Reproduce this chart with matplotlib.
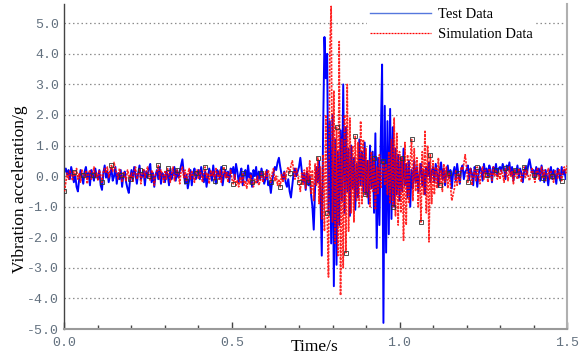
import numpy as np
import matplotlib
matplotlib.use("Agg")
import matplotlib.pyplot as plt
from matplotlib.lines import Line2D

# measured vibration acceleration (g), one row per 0.1 s block
test_accel = [
    0.15, 0.25, 0.05, 0.2, -0.1, 0.3, 0.1, -0.2, 0.05, -0.35, -0.5, -0.1, 0.2, 0.0, -0.25, 0.15, 0.3, -0.05, 0.1, -0.3, 0.2, 0.05, -0.15, 0.25, 0.0,
    -0.1, 0.2, -0.3, -0.45, 0.1, 0.35, -0.05, 0.15, -0.2, 0.05, 0.25, -0.15, 0.0, 0.3, -0.25, 0.1, -0.1, 0.2, -0.35, 0.05, 0.15, -0.2, -0.4, -0.55, -0.1,
    0.2, -0.15, 0.3, 0.05, -0.25, 0.1, 0.35, -0.1, 0.0, 0.2, -0.3, 0.15, -0.05, 0.25, 0.4, -0.2, 0.1, -0.35, 0.05, 0.2, -0.1, 0.3, -0.25, 0.1, 0.0,
    -0.2, 0.15, 0.05, -0.3, 0.25, -0.1, 0.1, 0.3, -0.15, 0.2, -0.05, 0.15, 0.35, 0.55, 0.1, -0.25, 0.05, -0.4, -0.15, 0.2, -0.3, 0.1, 0.25, -0.1, 0.05,
    0.2, -0.1, 0.3, 0.05, -0.2, 0.15, -0.35, -0.05, 0.25, 0.1, -0.15, 0.35, 0.0, -0.25, 0.2, 0.1, -0.1, 0.3, -0.3, 0.05, 0.2, -0.05, 0.15, -0.2, 0.25,
    0.1, 0.3, -0.1, 0.4, 0.15, -0.2, 0.05, 0.25, -0.3, 0.1, 0.2, -0.15, 0.35, -0.05, 0.1, -0.35, 0.2, 0.0, 0.3, -0.2, 0.15, -0.1, 0.25, 0.05, -0.25,
    -0.1, 0.2, -0.3, -0.2, -0.55, -0.15, 0.1, 0.3, 0.2, 0.45, 0.6, 0.3, 0.05, -0.1, 0.15, -0.2, -0.35, -0.1, -0.5, -0.7, -0.3, 0.1, 0.25, 0.0, 0.15,
    0.3, 0.6, 0.2, -0.2, 0.1, -0.45, 0.15, -0.3, 0.0, -0.6, -1.0, -1.75, -0.4, 0.3, -0.2, 0.5, -0.6, -2.6, 1.5, 4.55, 3.2, 4.0, -1.2, 1.8, -2.2,
    2.0, -3.6, 1.2, -2.9, 0.8, -1.6, 1.5, -0.8, 3.0, -1.2, 1.6, -0.5, 0.9, -1.3, 1.0, -0.4, 0.6, -1.1, 0.4, -0.7, 1.2, -0.3, 0.8, -0.5, 1.1,
    -0.6, 0.5, -0.9, 1.0, -0.4, 0.8, -1.2, 1.4, -2.35, 0.6, -1.6, 1.2, 3.65, -4.8, 2.3, -2.5, 1.8, -1.9, 2.2, -1.4, 1.6, -1.0, 0.9, -0.6, 0.7,
    -0.8, 0.6, -0.5, 0.9, -0.3, 0.4, -0.7, 0.5, -1.0, 0.2, -0.4, 0.5, -0.2, 0.3, -0.5, 0.1, 0.4, -0.3, 0.2, -0.6, 0.3, 0.0, 0.45, -0.2, 0.15,
    0.3, -0.2, 0.4, 0.1, -0.35, 0.2, 0.45, -0.1, 0.25, -0.3, 0.15, 0.35, -0.05, 0.2, -0.4, 0.1, 0.3, -0.15, 0.4, 0.05, -0.25, 0.2, 0.35, -0.1, 0.15,
    0.2, 0.35, -0.1, 0.25, 0.1, -0.3, 0.3, 0.15, -0.35, 0.05, 0.3, 0.2, -0.15, 0.4, 0.1, 0.25, -0.05, 0.35, 0.2, -0.2, 0.3, 0.1, 0.4, 0.0, 0.25,
    0.3, 0.15, 0.4, 0.25, -0.1, 0.35, 0.2, 0.45, 0.05, 0.3, -0.15, 0.2, 0.1, 0.35, -0.05, 0.25, 0.1, -0.2, 0.15, 0.3, 0.05, 0.35, 0.55, 0.3, 0.1,
    0.2, -0.1, 0.3, 0.05, 0.25, -0.15, 0.35, 0.1, -0.2, 0.2, 0.0, -0.3, 0.15, 0.3, -0.1, 0.2, 0.05, -0.25, 0.25, 0.1, -0.15, 0.3, 0.05, 0.2, -0.1,
    0.1,
]

# simulated vibration acceleration (g), same blocks
sim_accel = [
    -0.5, -0.2, 0.1, -0.1, 0.2, 0.05, -0.15, 0.15, 0.0, 0.25, -0.1, 0.1, -0.2, 0.2, 0.05, -0.05, 0.15, -0.25, 0.1, 0.2, -0.1, 0.05, 0.3, -0.05, 0.1,
    -0.15, 0.2, 0.05, -0.2, 0.15, 0.25, 0.1, 0.3, -0.05, 0.2, 0.35, 0.15, 0.45, 0.2, 0.1, -0.1, 0.25, 0.05, -0.2, 0.15, 0.0, -0.15, 0.2, 0.05, -0.1,
    0.1, -0.2, 0.15, 0.3, -0.1, 0.05, 0.2, -0.25, 0.1, 0.25, -0.05, 0.15, 0.3, 0.0, -0.15, 0.2, 0.1, -0.3, 0.05, 0.15, 0.35, -0.1, 0.2, 0.05, -0.2,
    0.15, -0.1, 0.25, 0.05, -0.2, 0.1, 0.3, -0.15, 0.0, 0.2, 0.1, -0.25, 0.15, 0.3, -0.05, 0.2, -0.15, 0.05, 0.25, -0.1, 0.15, 0.0, -0.2, 0.1, 0.2,
    -0.1, 0.2, 0.05, -0.2, 0.15, 0.3, -0.05, 0.1, -0.25, 0.2, 0.0, 0.15, -0.15, 0.25, 0.05, -0.1, 0.2, -0.2, 0.1, 0.3, -0.05, 0.15, -0.2, 0.05, 0.2,
    -0.1, -0.25, 0.05, -0.3, -0.15, -0.35, -0.05, -0.25, 0.1, -0.3, -0.15, -0.4, -0.1, -0.25, 0.05, -0.2, -0.35, -0.1, -0.25, 0.0, -0.3, -0.15, 0.1, -0.2, -0.05,
    0.15, -0.1, 0.2, 0.05, -0.2, 0.1, 0.25, -0.15, 0.0, -0.3, -0.1, -0.35, 0.05, -0.2, 0.15, -0.1, 0.2, 0.3, 0.1, 0.35, 0.5, 0.2, -0.1, 0.25, 0.05,
    -0.2, -0.5, 0.1, -0.3, 0.2, -0.4, 0.3, -0.2, 0.5, -0.6, 0.2, -0.8, 0.4, -0.3, 0.6, -0.9, 0.3, -1.4, 0.7, -1.8, 2.0, -1.2, -3.3, 4.1, 5.55,
    -1.5, 2.8, -2.2, 1.6, -2.6, 4.4, -3.9, 1.2, -3.0, 2.0, -2.5, 3.0, -1.8, 1.9, -1.2, 1.0, -1.5, 1.3, -0.8, 1.1, -1.0, 1.8, -0.9, 1.2, -0.6,
    0.9, -0.7, 0.5, -1.0, 0.8, -0.5, 0.6, -1.1, 0.3, -0.6, 0.7, -0.4, 0.2, 0.5, -0.3, 0.4, -0.6, 0.8, -0.9, 1.2, -1.0, 1.9, -1.3, 1.4, -1.6,
    0.8, -1.2, 0.6, -2.1, 1.1, -1.6, 0.7, -0.9, 0.5, 1.2, -0.8, 0.9, -0.5, 0.6, -1.0, 0.4, -1.5, 0.8, -0.6, 1.5, -1.2, 1.0, -2.15, 0.7, -0.9,
    0.5, -0.6, 0.3, -0.4, 0.6, -0.3, 0.2, -0.5, 0.4, -0.2, 0.3, -0.4, 0.1, -0.3, -0.8, -0.6, -0.4, 0.2, -0.3, 0.1, -0.2, 0.3, 0.2, 0.4, 0.7,
    0.3, -0.2, 0.1, 0.25, -0.3, 0.05, 0.2, -0.15, 0.3, 0.0, -0.25, 0.15, 0.3, -0.1, 0.2, 0.05, -0.2, 0.25, 0.1, -0.15, 0.3, 0.0, 0.2, -0.1, 0.15,
    -0.1, 0.2, 0.05, -0.2, 0.25, 0.1, -0.15, 0.3, 0.0, 0.15, -0.25, 0.2, 0.05, -0.1, 0.25, 0.1, -0.2, 0.15, 0.3, -0.05, 0.2, 0.0, -0.15, 0.1, 0.25,
    0.05, -0.2, 0.15, 0.25, -0.1, 0.1, 0.3, -0.05, 0.2, -0.15, 0.05, 0.25, -0.1, 0.15, 0.0, -0.2, 0.2, 0.1, -0.1, 0.25, 0.05, -0.15, 0.2, 0.3, 0.1,
    0.35,
]

x_ticks = [0.0, 0.5, 1.0, 1.5]
y_ticks = [-5, -4, -3, -2, -1, 0, 1, 2, 3, 4, 5]

t_test = np.linspace(0, 1.5, len(test_accel))
t_sim = np.linspace(0, 1.5, len(sim_accel))

fig = plt.figure(figsize=(5.83, 3.56), dpi=100)
ax = fig.add_axes([0.1106, 0.0758, 0.862, 0.913])

# dotted grid at every integer g
for y in y_ticks[1:]:
    ax.axhline(y, color='#8c8c8c', lw=0.9, ls=(0, (1.2, 2.2)), zorder=0)

ax.plot(t_test, test_accel, color='#0000ff', lw=1.4, zorder=2)
ax.plot(t_sim, sim_accel, color='#ff0000', lw=1.2, ls=(0, (1.4, 0.7)), alpha=0.85, zorder=3)
ax.plot(t_sim[::7], np.array(sim_accel)[::7], ls='none', marker='s', ms=2.8,
        mfc='none', mec='#333333', mew=0.6, zorder=4)

ax.set_xlim(0, 1.5)
ax.set_ylim(-5, 5.63)

tick_font = dict(family='Liberation Mono', size=9.5, color='#62707e')
ax.set_xticks(x_ticks)
ax.set_xticklabels([f"{v:.1f}" for v in x_ticks], **tick_font)
ax.set_xticks(np.arange(0, 1.51, 0.1), minor=True)
ax.set_yticks(y_ticks)
ax.set_yticklabels([f"{v:.1f}" for v in y_ticks], **tick_font)

ax.tick_params(axis='x', which='major', direction='in', length=5, width=1, color='#444', pad=6)
ax.tick_params(axis='x', which='minor', direction='in', length=3, width=1, color='#444')
ax.tick_params(axis='y', length=0, pad=4)

ax.spines['top'].set_visible(False)
ax.spines['left'].set_color('#444444')
ax.spines['left'].set_linewidth(1.0)
ax.spines['bottom'].set_color('#9a9a9a')
ax.spines['bottom'].set_linewidth(1.5)
ax.spines['right'].set_color('#b0b0b0')
ax.spines['right'].set_linewidth(1.5)

label_font = dict(family='Liberation Serif', size=12.5)
ax.set_xlabel('Time/s', **label_font)
ax.xaxis.set_label_coords(0.4985, -0.03)
ax.set_ylabel('Vibration acceleration/g', **label_font)
ax.yaxis.set_label_coords(-0.072, 0.43)

handles = [
    Line2D([], [], color='#5577dd', lw=1.0),
    Line2D([], [], color='#ff0000', lw=0.9, ls=(0, (1.6, 0.8))),
]
leg = ax.legend(handles, ['Test Data', 'Simulation Data'], loc='upper left',
                bbox_to_anchor=(0.587, 1.02), frameon=True, framealpha=1,
                facecolor='white', edgecolor='none', fancybox=False,
                handlelength=4.2, handletextpad=0.5, labelspacing=0.5,
                borderpad=0.2, prop=dict(family='Liberation Serif', size=10.5))
leg.set_zorder(5)

fig.savefig('out.png', dpi=100)
